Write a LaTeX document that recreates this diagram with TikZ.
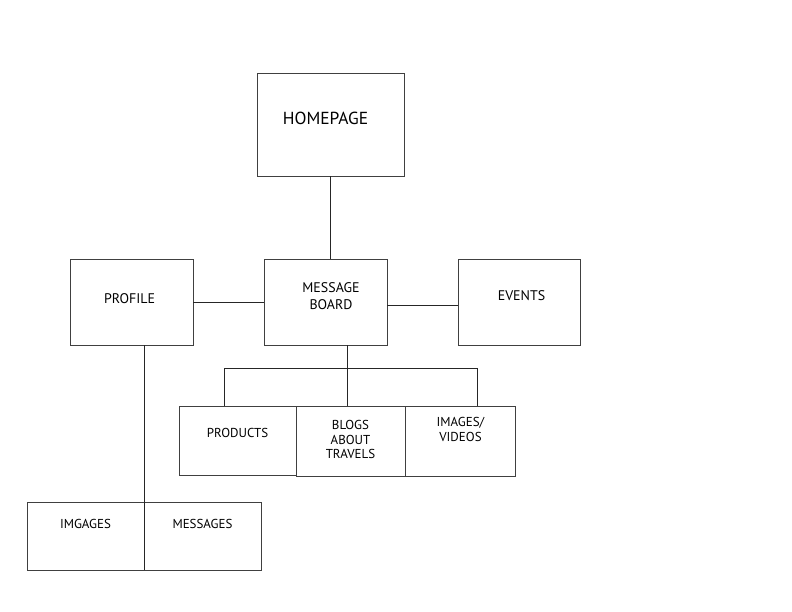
\documentclass[tikz,border=0pt]{standalone}
\usepackage{fontspec}
\setmainfont{PT Sans}
\usepackage{tikz}
\tikzset{
  pagebox/.style={draw=black!75,line width=0.8bp,inner sep=0pt,
    minimum width=123bp,minimum height=86bp},
  bigtext/.style={font=\fontsize{17.5}{20}\selectfont,align=center},
  midtext/.style={font=\fontsize{14}{17}\selectfont,align=center},
  smalltext/.style={font=\fontsize{13}{14.5}\selectfont,align=center},
  link/.style={draw=black!85,line width=0.8bp}
}
\begin{document}
\begin{tikzpicture}[x=1bp,y=-1bp]
        \useasboundingbox (0,0) rectangle (792,612);
        \node[pagebox,minimum width=147bp,minimum height=103bp,
            label={[bigtext,xshift=-5bp,yshift=6.5bp]center:HOMEPAGE}]
            (home) at (330.5,124.5) {};
        \node[pagebox,label={[midtext,xshift=-2bp,yshift=3bp]center:PROFILE}]
            (profile) at (131.5,302) {};
        \node[pagebox,label={[midtext,xshift=5.5bp,yshift=5.5bp]center:MESSAGE\\BOARD}]
            (board) at (325.5,302) {};
        \node[pagebox,minimum width=122bp,
            label={[midtext,xshift=2.5bp,yshift=6bp]center:EVENTS}]
            (events) at (519,302) {};
        \node[pagebox,minimum width=117bp,minimum height=69bp,
            label={[smalltext,yshift=7.5bp]center:PRODUCTS}]
            (products) at (237.5,440.5) {};
        \node[pagebox,minimum width=109bp,minimum height=70bp,
            label={[smalltext,yshift=1.5bp]center:BLOGS\\ABOUT\\TRAVELS}]
            (blogs) at (350.5,441) {};
        \node[pagebox,minimum width=110bp,minimum height=70bp,
            label={[smalltext,yshift=11.5bp]center:IMAGES/\\VIDEOS}]
            (media) at (460.5,441) {};
        \node[pagebox,minimum width=117bp,minimum height=68bp,
            label={[smalltext,yshift=12bp]center:IMGAGES}]
            (images) at (85.5,536) {};
        \node[pagebox,minimum width=117bp,minimum height=68bp,
            label={[smalltext,yshift=12bp]center:MESSAGES}]
            (messages) at (202.5,536) {};
        \coordinate (bus) at (347,368);
        \coordinate (busL) at (224,368);
        \coordinate (busR) at (477,368);
        \draw[link] (home.south) -- (home.south |- board.north);
        \draw[link] (profile.east) -- (board.west);
        \draw[link] ([yshift=-3bp]board.east) -- ([yshift=-3bp]events.west);
        \draw[link] (board.south -| bus) -- (bus |- blogs.north);
        \draw[link] (busL |- products.north) -- (busL) -- (busR) -- (busR |- media.north);
        \draw[link] (profile.south -| images.east) -- (images.south east);
    \end{tikzpicture}
\end{document}
